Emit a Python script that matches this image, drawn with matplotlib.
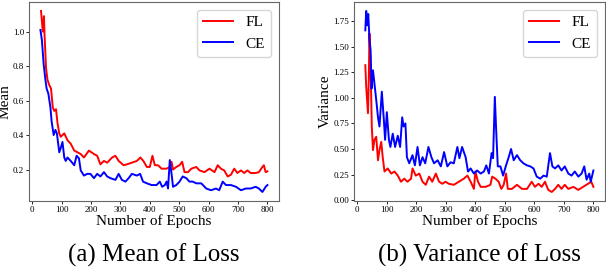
import matplotlib
matplotlib.use('Agg')
import matplotlib.pyplot as plt

plt.rcParams['font.family'] = ['Liberation Serif', 'DejaVu Serif']

# (a) mean of loss
mean_fl_epochs = [30, 36, 40, 42, 47, 52, 58, 64, 70, 75, 81, 86, 92, 97, 109, 120, 131, 143, 154,
                  165, 176, 193, 210, 221, 232, 244, 255, 272, 283, 294, 311, 322, 339, 356, 368,
                  378, 390, 400, 409, 417, 428, 440, 457, 468, 474, 479, 490, 501, 510, 518, 530,
                  541, 558, 569, 586, 603, 620, 631, 642, 653, 665, 676, 687, 698, 710, 721, 732,
                  743, 760, 771, 783, 788, 794, 800]
mean_fl = [1.12, 1.00, 1.09, 0.98, 0.79, 0.72, 0.69, 0.67, 0.56, 0.54, 0.55, 0.47, 0.41, 0.39, 0.41,
           0.37, 0.35, 0.31, 0.30, 0.29, 0.27, 0.31, 0.29, 0.28, 0.23, 0.25, 0.24, 0.27, 0.28, 0.25,
           0.225, 0.23, 0.24, 0.25, 0.27, 0.25, 0.215, 0.215, 0.28, 0.225, 0.225, 0.205, 0.205,
           0.215, 0.245, 0.20, 0.215, 0.225, 0.245, 0.185, 0.185, 0.205, 0.215, 0.195, 0.185,
           0.205, 0.185, 0.225, 0.205, 0.195, 0.16, 0.17, 0.205, 0.18, 0.195, 0.18, 0.195, 0.18,
           0.18, 0.185, 0.215, 0.225, 0.185, 0.19]
mean_ce_epochs = [28, 33, 39, 45, 49, 55, 62, 66, 73, 79, 84, 92, 98, 103, 109, 114, 120, 131, 143,
                  151, 159, 165, 176, 187, 198, 210, 221, 232, 244, 255, 266, 283, 294, 305, 317,
                  328, 339, 356, 367, 377, 390, 406, 423, 434, 442, 451, 457, 462, 468, 474, 479,
                  490, 501, 512, 524, 535, 546, 558, 575, 592, 608, 625, 636, 648, 659, 676, 693,
                  710, 727, 743, 760, 771, 783, 794, 800]
mean_ce = [1.01, 0.95, 0.81, 0.72, 0.67, 0.64, 0.56, 0.48, 0.40, 0.43, 0.41, 0.30, 0.33, 0.36, 0.27,
           0.25, 0.27, 0.25, 0.225, 0.28, 0.265, 0.195, 0.165, 0.175, 0.175, 0.15, 0.175, 0.16,
           0.185, 0.16, 0.15, 0.14, 0.175, 0.14, 0.13, 0.15, 0.175, 0.165, 0.175, 0.13, 0.12, 0.11,
           0.11, 0.13, 0.10, 0.11, 0.13, 0.09, 0.255, 0.175, 0.10, 0.11, 0.13, 0.16, 0.15, 0.13,
           0.13, 0.12, 0.12, 0.09, 0.08, 0.09, 0.08, 0.13, 0.11, 0.11, 0.10, 0.08, 0.09, 0.09,
           0.10, 0.09, 0.07, 0.10, 0.11]

# (b) variance of loss
var_fl_epochs = [27, 30, 36, 39, 41, 45, 49, 53, 58, 64, 70, 75, 81, 86, 92, 103, 115, 126, 137,
                 148, 159, 170, 182, 187, 198, 210, 221, 232, 243, 254, 266, 277, 288, 299, 310,
                 327, 344, 361, 373, 384, 395, 400, 409, 418, 435, 451, 457, 468, 479, 488, 496,
                 504, 510, 524, 541, 558, 575, 591, 602, 614, 625, 636, 647, 659, 670, 681, 692,
                 703, 715, 732, 749, 765, 782, 793, 800]
var_fl = [1.32, 1.11, 0.85, 1.20, 1.63, 1.30, 0.72, 0.49, 0.59, 0.62, 0.39, 0.49, 0.57, 0.42, 0.28,
          0.31, 0.26, 0.28, 0.24, 0.18, 0.21, 0.18, 0.21, 0.31, 0.24, 0.26, 0.18, 0.15, 0.23, 0.18,
          0.26, 0.18, 0.16, 0.18, 0.16, 0.15, 0.18, 0.21, 0.24, 0.18, 0.11, 0.28, 0.18, 0.13, 0.13,
          0.15, 0.23, 0.21, 0.18, 0.11, 0.15, 0.26, 0.11, 0.11, 0.15, 0.11, 0.11, 0.18, 0.13,
          0.16, 0.13, 0.18, 0.10, 0.08, 0.11, 0.15, 0.11, 0.15, 0.11, 0.13, 0.10, 0.13, 0.16,
          0.18, 0.13]
var_ce_epochs = [27, 30, 34, 37, 41, 45, 48, 53, 58, 64, 70, 75, 83, 90, 94, 100, 107, 112, 120,
                 128, 137, 145, 152, 157, 163, 168, 176, 187, 195, 204, 212, 221, 230, 241, 251,
                 260, 272, 283, 294, 305, 316, 327, 339, 346, 355, 367, 375, 384, 395, 406, 418,
                 429, 437, 446, 455, 460, 466, 470, 476, 485, 494, 504, 513, 521, 530, 541, 552,
                 563, 575, 586, 597, 608, 620, 631, 642, 653, 661, 670, 681, 692, 703, 715, 726,
                 737, 749, 760, 769, 777, 786, 791, 800]
var_ce = [1.66, 1.85, 1.71, 1.82, 1.58, 1.46, 1.09, 1.27, 1.14, 0.98, 0.81, 0.72, 1.06, 0.78, 0.59,
          0.86, 0.59, 0.52, 0.65, 0.52, 0.63, 0.52, 0.81, 0.72, 0.75, 0.42, 0.36, 0.44, 0.34, 0.52,
          0.34, 0.42, 0.36, 0.52, 0.42, 0.36, 0.39, 0.33, 0.47, 0.33, 0.37, 0.36, 0.52, 0.41, 0.52,
          0.42, 0.28, 0.31, 0.26, 0.29, 0.26, 0.28, 0.34, 0.26, 0.46, 0.41, 1.01, 0.72, 0.33, 0.33,
          0.24, 0.34, 0.42, 0.50, 0.39, 0.44, 0.39, 0.36, 0.34, 0.33, 0.31, 0.23, 0.21, 0.24, 0.23,
          0.46, 0.33, 0.31, 0.34, 0.29, 0.33, 0.26, 0.24, 0.28, 0.23, 0.26, 0.33, 0.20, 0.26, 0.18,
          0.29]

fig = plt.figure(figsize=(6.06, 2.72), dpi=100)
ax1 = fig.add_axes([0.048, 0.261, 0.412, 0.732])
ax2 = fig.add_axes([0.584, 0.261, 0.414, 0.732])

panels = [
    (ax1, mean_fl_epochs, mean_fl, mean_ce_epochs, mean_ce, 'Mean', '(a) Mean of Loss'),
    (ax2, var_fl_epochs, var_fl, var_ce_epochs, var_ce, 'Variance', '(b) Variance of Loss'),
]
for ax, xf, yf, xc, yc, ylab, cap in panels:
    ax.plot(xf, yf, color='red', lw=1.4, label='FL')
    ax.plot(xc, yc, color='blue', lw=1.4, label='CE')
    ax.set_xticks(range(0, 801, 100))
    ax.tick_params(labelsize=6.5, length=2, width=0.6, pad=1.5)
    ax.set_xlabel('Number of Epochs', fontsize=11, labelpad=0)
    ax.set_ylabel(ylab, fontsize=11, labelpad=1)
    for s in ax.spines.values():
        s.set_color('#666666')
    ax.legend(loc='upper right', fontsize=11)
    pos = ax.get_position()
    fig.text((pos.x0 + pos.x1) / 2, 0.06, cap, fontsize=18, ha='center', va='center')

ax2.set_yticks([0, 0.25, 0.5, 0.75, 1.0, 1.25, 1.5, 1.75])

fig.savefig('out.png', dpi=100)
